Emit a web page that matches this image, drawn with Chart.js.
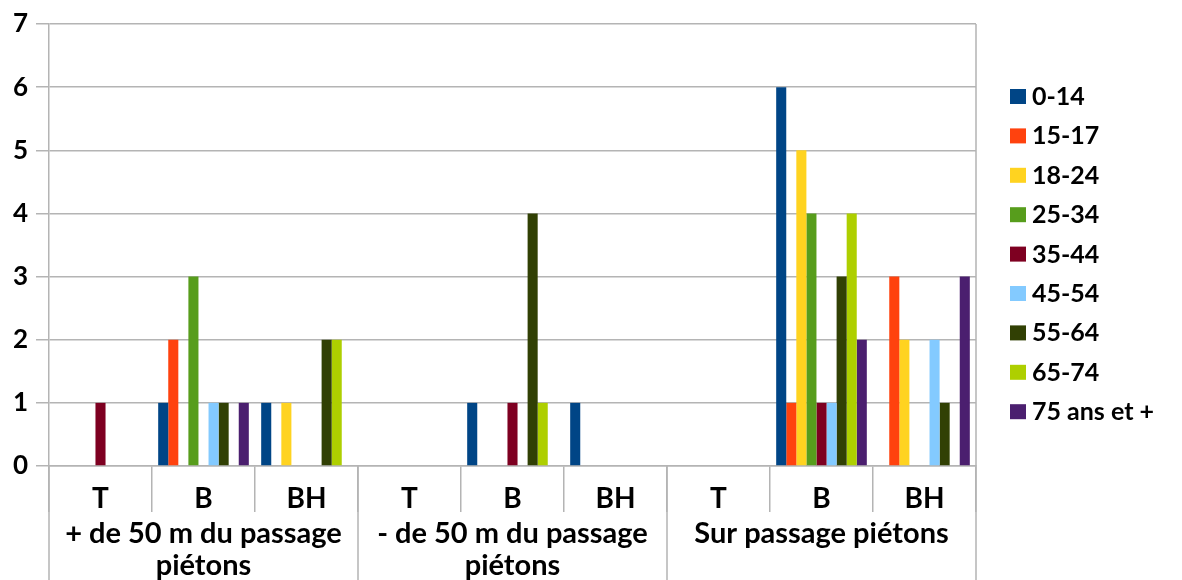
<!DOCTYPE html>
<html lang="fr">
<head>
<meta charset="utf-8">
<title>Victimes par tranche d'âge et localisation</title>
<script src="https://cdn.jsdelivr.net/npm/chart.js@4.4.0/dist/chart.umd.min.js"></script>
<style>
  html, body { margin: 0; padding: 0; background: #fff; }
  #chart { display: block; }
</style>
</head>
<body>
<canvas id="chart" width="1182" height="580"></canvas>
<script>
// --- Données ---
const categories = ['T', 'B', 'BH', 'T', 'B', 'BH', 'T', 'B', 'BH'];
const groupLabels = [
    ['+ de 50 m du passage', 'piétons'],
    ['- de 50 m du passage', 'piétons'],
    ['Sur passage piétons']
];
const ageLabels = ['0-14', '15-17', '18-24', '25-34', '35-44', '45-54', '55-64', '65-74', '75 ans et +'];
const ageColors = ['#004586', '#ff420e', '#ffd320', '#579d1c', '#7e0021', '#83caff', '#314004', '#aecf00', '#4b1f6f'];

const age0_14  = [0, 1, 1, 0, 1, 1, 0, 6, 0];
const age15_17 = [0, 2, 0, 0, 0, 0, 0, 1, 3];
const age18_24 = [0, 0, 1, 0, 0, 0, 0, 5, 2];
const age25_34 = [0, 3, 0, 0, 0, 0, 0, 4, 0];
const age35_44 = [1, 0, 0, 0, 1, 0, 0, 1, 0];
const age45_54 = [0, 1, 0, 0, 0, 0, 0, 1, 2];
const age55_64 = [0, 1, 2, 0, 4, 0, 0, 3, 1];
const age65_74 = [0, 0, 2, 0, 1, 0, 0, 4, 0];
const age75plus = [0, 1, 0, 0, 0, 0, 0, 2, 3];
const yMax = 7;

const seriesValues = [age0_14, age15_17, age18_24, age25_34, age35_44, age45_54, age55_64, age65_74, age75plus];

const FONT = 'Lato, "Open Sans", sans-serif';
const GRID = '#b4b4b4';

// Séparateurs des groupes, libellés de groupe, bord droit et légende
const decorPlugin = {
    id: 'decor',
    afterDraw(chart) {
        const { ctx, chartArea: a, scales: { x } } = chart;
        const per = categories.length / groupLabels.length;
        ctx.save();
        ctx.strokeStyle = GRID;
        ctx.lineWidth = 1.5;

        ctx.beginPath();
        ctx.moveTo(a.right, a.top);
        ctx.lineTo(a.right, a.bottom);
        for (let g = 0; g <= groupLabels.length; g++) {
            const px = Math.round(x.getPixelForValue(g * per - 0.5));
            ctx.moveTo(px, a.bottom);
            ctx.lineTo(px, chart.height);
        }
        ctx.stroke();

        ctx.fillStyle = '#000';
        ctx.font = 'bold 29px ' + FONT;
        ctx.textAlign = 'center';
        ctx.textBaseline = 'middle';
        groupLabels.forEach((lines, g) => {
            const cx = x.getPixelForValue(g * per + (per - 1) / 2);
            lines.forEach((txt, i) => ctx.fillText(txt, cx, a.bottom + 68 + i * 32));
        });

        // légende
        ctx.font = 'bold 25px ' + FONT;
        ctx.textAlign = 'left';
        chart.data.datasets.forEach((ds, i) => {
            const cy = 97 + i * 39.4;
            ctx.fillStyle = ds.backgroundColor;
            ctx.fillRect(a.right + 34, cy - 8, 16, 15);
            ctx.fillStyle = '#000';
            ctx.fillText(ds.label, a.right + 56, cy);
        });
        ctx.restore();
    }
};

new Chart(document.getElementById('chart'), {
    type: 'bar',
    data: {
        labels: categories,
        datasets: ageLabels.map((label, i) => ({
            label: label,
            data: seriesValues[i],
            backgroundColor: ageColors[i],
            borderWidth: 0,
            categoryPercentage: 0.88,
            barPercentage: 1
        }))
    },
    options: {
        responsive: false,
        animation: false,
        layout: { padding: { top: 24, right: 206, left: 0, bottom: 0 } },
        plugins: {
            legend: { display: false },
            tooltip: { enabled: false }
        },
        scales: {
            x: {
                offset: true,
                grid: {
                    offset: true,
                    drawOnChartArea: false,
                    drawTicks: true,
                    tickLength: 46,
                    color: GRID,
                    lineWidth: 1.5
                },
                border: { color: GRID, width: 1.5 },
                ticks: {
                    color: '#000',
                    padding: -30,
                    font: { family: FONT, size: 28, weight: 'bold' }
                },
                afterFit(scale) { scale.height = 114; }
            },
            y: {
                min: 0,
                max: yMax,
                grid: {
                    color: GRID,
                    lineWidth: 1.5,
                    tickLength: 13
                },
                border: { color: GRID, width: 1.5 },
                ticks: {
                    stepSize: 1,
                    color: '#000',
                    padding: 8,
                    font: { family: FONT, size: 26, weight: 'bold' }
                },
                afterFit(scale) { scale.width = 49; }
            }
        }
    },
    plugins: [decorPlugin]
});
</script>
</body>
</html>
